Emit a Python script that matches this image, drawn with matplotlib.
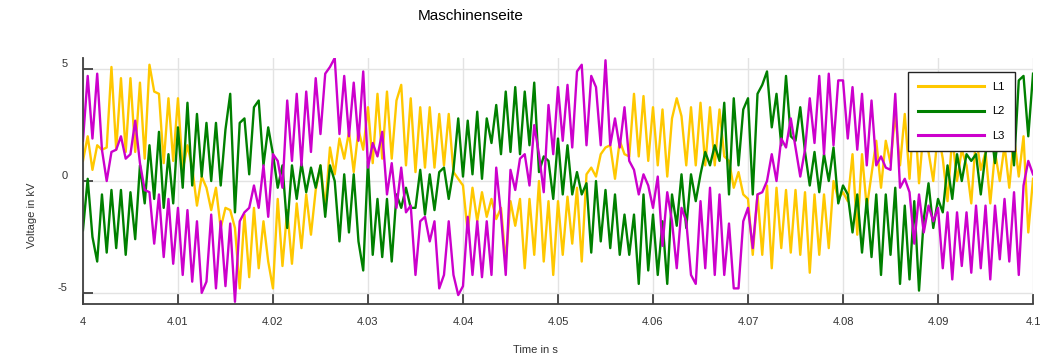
import numpy as np
import matplotlib.pyplot as plt

plt.rcParams['font.family'] = ['Liberation Sans', 'DejaVu Sans']

# time axis: 0.5 ms steps from 4.0 s to 4.1 s
t_start = 4.0
t_step = 0.0005

# phase voltages in kV
l1 = [0.9, 2.0, 0.5, 1.6, 1.4, 1.5, 5.1, 1.4, 4.6, 1.3,
      4.6, 1.3, 4.4, 1.0, 5.2, 4.0, 3.9, 0.8, 3.7, 0.9,
      3.7, 0.5, 1.6, 0.6, -1.1, 0.2, -0.3, -1.3, -0.3, -2.1,
      -1.2, -1.3, -2.1, -4.8, -1.5, -4.3, -1.2, -3.9, -1.8, -3.6,
      -4.8, -0.8, -3.8, -1.3, -3.7, -1.0, -3.0, -0.6, -2.4, -0.4,
      0.7, -1.2, 1.5, 0.3, 1.9, 1.0, 2.2, 0.4, 2.3, 1.4,
      3.3, 0.8, 3.9, 1.0, 4.0, 1.0, 3.6, 4.3, 0.7, 3.7,
      0.4, 3.3, 0.6, 3.3, 0.6, 3.0, 0.7, 3.0, 0.4, 0.1,
      -0.2, -2.3, -0.3, -1.8, -0.5, -1.6, -0.8, -1.7, -1.2, -3.6,
      -0.9, -2.0, -0.8, -3.9, -0.8, -3.3, 0.0, -3.6, -0.9, -4.2,
      -0.9, -3.3, -0.7, -2.8, -0.3, -3.6, 0.3, 0.6, 0.2, 1.2,
      1.5, 1.6, 0.1, 1.8, 1.2, 1.1, 3.9, 1.1, 3.8, 0.9,
      3.3, 0.7, 3.2, 0.2, 2.8, 3.7, 2.9, 0.7, 3.3, 0.7,
      3.5, 0.7, 3.3, 0.7, 3.2, 1.1, 0.9, -0.3, 0.4, -0.6,
      -0.8, -3.3, -0.6, -3.3, -0.2, -3.9, -0.3, -3.0, -0.4, -3.2,
      -0.4, -3.3, -0.5, -4.1, -0.6, -3.3, -0.6, -3.0, 0.0, -0.8,
      -0.5, -0.9, 1.2, -2.4, 1.2, -1.2, 0.3, 1.8, -0.3, 1.8,
      0.8, 3.0, 0.7, 3.0, 0.1, 3.3, -0.1, 2.4, 1.3, 0.0,
      2.2, 1.0, -0.9, 2.0, 0.0, 1.4, 0.7, -1.0, 2.0, 0.5,
      1.3, -1.0, 1.3, 0.0, 1.6, -0.3, 2.0, 0.2, 2.0, -2.3,
      0.1]

l2 = [-2.2, 0.1, -2.5, -3.6, -0.6, -3.2, -0.4, -3.0, -0.4, -3.3,
      -0.5, -2.6, 0.7, -1.0, 1.6, -0.8, 2.2, -1.2, 1.2, -1.0,
      2.4, -0.3, 3.5, -0.2, 3.0, 0.2, 2.6, 0.0, 2.6, -0.2,
      2.3, 3.9, -1.4, 2.6, 2.8, 0.3, 3.3, 3.6, 0.7, 2.4,
      1.2, -0.3, 0.7, -2.1, 0.7, -0.8, 0.8, -0.5, 0.6, -0.3,
      0.7, -1.6, 0.7, 0.0, -2.7, 0.3, -2.3, 0.3, -2.7, -4.0,
      0.9, -3.3, -0.8, -3.4, -0.8, -3.6, -0.6, -1.2, -0.3, -1.2,
      -1.2, 0.5, -1.5, 0.3, -1.3, 0.4, 0.6, -0.8, 0.5, 2.8,
      0.2, 2.7, 0.3, 3.1, 0.1, 2.8, 1.7, 3.4, 1.2, 4.0,
      1.3, 4.2, 1.2, 4.0, 1.6, 4.4, 0.4, 1.1, 0.9, -0.8,
      1.9, -0.6, 1.6, -0.6, 0.4, -0.6, -0.1, -3.2, 0.0, -2.7,
      -0.4, -3.0, -0.6, -3.3, -1.5, -3.3, -1.5, -4.6, -0.6, -4.0,
      -1.5, -4.2, -1.8, -4.6, -0.6, -2.0, 0.3, -2.1, 0.3, -0.9,
      0.3, 1.3, 0.7, 1.6, 0.9, 3.5, -0.6, 3.7, 0.7, 3.2,
      3.7, -0.6, 3.9, 4.3, 4.9, 2.4, 3.9, 1.6, 4.7, 2.0,
      1.8, 3.3, 1.3, -0.2, 1.3, -0.5, 1.2, 0.0, 1.5, -1.0,
      -0.2, -0.6, -2.3, -0.6, -3.2, -0.8, -3.4, -0.6, -4.2, -0.6,
      -3.3, -0.3, -4.6, -1.1, -4.4, -0.9, -4.9, -1.7, -0.1, -2.1,
      -0.8, -1.4, 0.7, -0.8, 1.2, 0.0, 1.2, 0.9, 1.2, -0.6,
      1.2, 2.5, 0.8, 2.6, 1.6, 3.0, 0.7, 4.5, 4.7, 2.0,
      4.8]

l3 = [1.8, 4.7, 1.9, 4.8, 1.4, 0.0, 1.3, 1.4, 2.0, 1.0,
      1.2, 2.7, 0.8, -0.4, -0.5, -2.8, -0.6, -3.4, -0.8, -3.7,
      -1.2, -4.2, -1.3, -4.5, -1.8, -5.0, -4.5, -1.5, -4.8, -1.8,
      -4.7, -1.9, -5.4, -1.8, -1.4, -1.2, -0.2, -1.2, 0.7, -1.6,
      1.2, 0.9, -0.3, 3.6, 0.9, 3.9, 0.7, 4.0, 1.3, 4.6,
      2.1, 4.8, 5.1, 5.5, 2.1, 4.7, 2.0, 4.4, 1.8, 4.9,
      0.6, 1.7, 1.1, 2.2, -0.6, 0.8, -1.2, 0.6, -1.4, -1.1,
      -4.2, -1.8, -1.6, -2.7, -1.8, -4.8, -4.2, -1.8, -4.2, -5.1,
      -4.7, -1.6, -4.2, -1.8, -4.3, -1.8, -4.2, 0.6, -1.5, -4.2,
      0.5, -0.4, 1.0, 1.2, -0.2, 2.5, 1.2, -0.5, 3.4, 1.2,
      4.2, 1.8, 4.3, 1.5, 4.9, 5.2, 1.6, 4.7, 4.2, 1.6,
      5.4, 1.6, 2.8, 1.5, 3.3, 0.9, 0.5, -0.6, 0.3, -0.2,
      -1.2, 0.2, -2.9, -0.5, -1.8, -3.9, -1.2, -1.8, -4.2, -4.6,
      -0.9, -3.9, -0.3, -4.2, -0.6, -4.2, -1.9, -4.8, -4.8, -1.8,
      -1.2, -3.0, -0.6, -0.5, 0.0, 1.2, 0.0, 1.9, 1.5, 2.8,
      1.5, 0.2, 1.4, 3.7, 1.7, 4.7, 1.2, 4.8, 1.6, 4.5,
      4.5, 1.9, 4.2, 1.4, 3.9, 0.7, 3.6, 0.7, 1.1, 0.6,
      0.5, 3.9, -0.3, 0.1, -0.5, -2.8, -0.6, -2.3, -1.1, -1.8,
      -1.2, -3.9, -1.4, -4.4, -1.4, -3.8, -1.4, -4.1, -1.1, -3.9,
      -1.1, -4.4, -1.1, -3.5, -0.8, -3.6, -0.5, -4.2, -0.2, 0.9,
      0.3]

labels = ['L1', 'L2', 'L3']
colors = ['#ffc800', '#008000', '#cc00cc']

t = t_start + t_step * np.arange(len(l1))

fig = plt.figure(figsize=(10.46, 3.56), dpi=100)
ax = fig.add_axes([0.0793, 0.146, 0.9083, 0.691])

for y, lab, c in zip([l1, l2, l3], labels, colors):
    ax.plot(t, y, color=c, lw=1.7, label=lab)

ax.set_xlim(4.0, 4.1)
ax.set_ylim(-5.5, 5.5)
ax.set_xticks(np.arange(4.0, 4.1001, 0.01))
ax.set_xticklabels(['4', '4.01', '4.02', '4.03', '4.04', '4.05',
                    '4.06', '4.07', '4.08', '4.09', '4.1'])
ax.set_yticks([-5, 0, 5])
ax.set_yticklabels(['-5', '0', '5'])
ax.grid(True, color='#e3e3e3', lw=1)
ax.set_axisbelow(True)

for s in ['top', 'right']:
    ax.spines[s].set_visible(False)
for s in ['left', 'bottom']:
    ax.spines[s].set_color('#404040')
    ax.spines[s].set_linewidth(1.3)

ax.tick_params(direction='in', length=7, width=1.3, color='#404040',
               labelsize=8, labelcolor='#333333')
ax.tick_params(axis='x', pad=9)
ax.tick_params(axis='y', pad=11)
for lbl in ax.get_yticklabels():
    lbl.set_verticalalignment('bottom')

ax.set_xlabel('Time in s', fontsize=8, color='#333333')
ax.xaxis.set_label_coords(0.476, -0.167)
ax.set_ylabel('Voltage in kV', fontsize=8, color='#333333')
ax.yaxis.set_label_coords(-0.048, 0.36)

fig.text(0.45, 0.955, 'Maschinenseite', ha='center', va='center', fontsize=11)

leg = ax.legend(loc='upper right', bbox_to_anchor=(0.981, 0.943),
                borderaxespad=0, fontsize=8, handlelength=5.9,
                labelspacing=1.3, fancybox=False, framealpha=1,
                edgecolor='#222222', borderpad=0.9)
leg.get_frame().set_linewidth(1.0)
for line in leg.get_lines():
    line.set_linewidth(2.2)

fig.savefig('out.png', dpi=100)
